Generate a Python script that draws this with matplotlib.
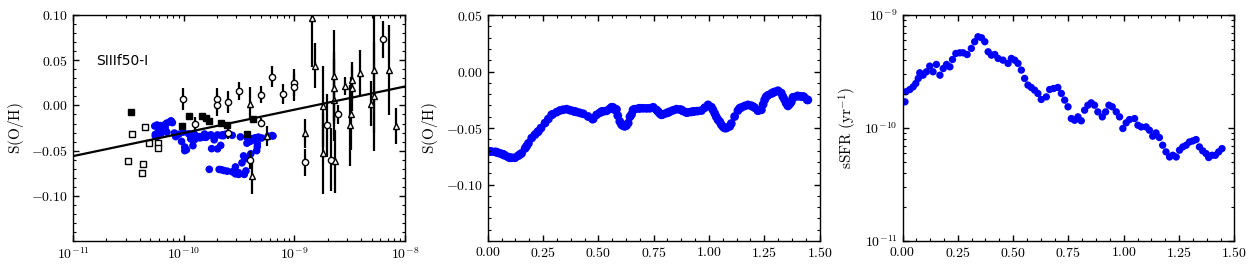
import matplotlib
matplotlib.use("Agg")
import matplotlib.pyplot as plt
import numpy as np
from matplotlib.ticker import AutoMinorLocator, MultipleLocator, FixedLocator

plt.rcParams['font.family'] = 'serif'
plt.rcParams['font.serif'] = ['cmr10']
plt.rcParams['mathtext.fontset'] = 'cm'
plt.rcParams['axes.formatter.use_mathtext'] = True
plt.rcParams['font.size'] = 10

t = [0.011, 0.015, 0.033, 0.048, 0.06, 0.071, 0.078, 0.093, 0.108, 0.123,
     0.138, 0.153, 0.169, 0.184, 0.199, 0.214, 0.226, 0.241, 0.259, 0.274,
     0.292, 0.311, 0.326, 0.341, 0.357, 0.372, 0.387, 0.402, 0.417, 0.432,
     0.454, 0.477, 0.492, 0.507, 0.522, 0.537, 0.552, 0.567, 0.582, 0.597,
     0.612, 0.627, 0.65, 0.665, 0.683, 0.702, 0.718, 0.733, 0.748, 0.763,
     0.778, 0.793, 0.808, 0.823, 0.838, 0.853, 0.868, 0.883, 0.903, 0.918,
     0.933, 0.948, 0.966, 0.981, 0.996, 1.011, 1.026, 1.049, 1.064, 1.079,
     1.101, 1.116, 1.131, 1.146, 1.161, 1.176, 1.191, 1.207, 1.222, 1.237,
     1.252, 1.267, 1.282, 1.297, 1.312, 1.327, 1.342, 1.357, 1.372, 1.384,
     1.399, 1.414, 1.429, 1.444]
soh = [-0.0707, -0.0708, -0.0711, -0.072, -0.0727, -0.0734, -0.0743, -0.0757, -0.0763, -0.0763,
       -0.0745, -0.0724, -0.068, -0.0635, -0.0588, -0.0558, -0.0535, -0.05, -0.0456, -0.042,
       -0.038, -0.036, -0.0345, -0.0338, -0.0333, -0.0342, -0.035, -0.0358, -0.0366, -0.0374,
       -0.0398, -0.0418, -0.0383, -0.0365, -0.0352, -0.0348, -0.033, -0.0318, -0.0335, -0.0442,
       -0.048, -0.0478, -0.038, -0.0333, -0.0326, -0.0325, -0.0326, -0.0325, -0.0316, -0.034,
       -0.0372, -0.0378, -0.0368, -0.0355, -0.0343, -0.0333, -0.0336, -0.035, -0.0362, -0.0358,
       -0.0353, -0.035, -0.0345, -0.032, -0.0295, -0.0315, -0.037, -0.0445, -0.049, -0.05,
       -0.046, -0.0398, -0.0345, -0.0318, -0.0305, -0.0295, -0.0302, -0.032, -0.0345, -0.0339,
       -0.025, -0.021, -0.0195, -0.018, -0.017, -0.019, -0.025, -0.0304, -0.027, -0.0228,
       -0.0218, -0.022, -0.0223, -0.025]
log_ssfr = [-9.768, -9.679, -9.659, -9.635, -9.606, -9.561, -9.511, -9.532, -9.502, -9.452,
            -9.502, -9.437, -9.532, -9.473, -9.437, -9.458, -9.393, -9.34, -9.334, -9.334,
            -9.349, -9.295, -9.236, -9.192, -9.201, -9.236, -9.325, -9.355, -9.349, -9.384,
            -9.399, -9.428, -9.384, -9.399, -9.428, -9.487, -9.561, -9.62, -9.641, -9.665,
            -9.694, -9.747, -9.724, -9.659, -9.65, -9.641, -9.694, -9.753, -9.812, -9.916,
            -9.931, -9.901, -9.936, -9.842, -9.798, -9.777, -9.798, -9.857, -9.901, -9.857,
            -9.798, -9.812, -9.857, -9.901, -10.004, -9.954, -9.925, -9.916, -9.975, -9.99,
            -9.99, -10.019, -10.072, -10.043, -10.084, -10.152, -10.211, -10.256, -10.241, -10.256,
            -10.196, -10.167, -10.152, -10.123, -10.114, -10.102, -10.167, -10.202, -10.226, -10.261,
            -10.241, -10.241, -10.211, -10.182]
ssfr = 10.0 ** np.array(log_ssfr)

# extra readings of the thick S(O/H) track in panel 2
t_extra = [0.0, 0.04, 0.07, 0.10, 0.146, 0.176, 0.229, 0.289, 0.394, 0.474,
           0.515, 0.56, 0.575, 0.588, 0.605, 0.62, 0.635, 0.643, 0.657, 0.688,
           0.77, 0.785, 0.815, 0.876, 0.898, 0.928, 1.018, 1.033, 1.041, 1.056,
           1.071, 1.094, 1.139, 1.199, 1.221, 1.245, 1.259, 1.289, 1.334, 1.349,
           1.364, 1.38, 1.402, 1.425, 1.447]
soh_extra = [-0.0705, -0.0713, -0.0734, -0.0763, -0.0734, -0.066, -0.0529, -0.0383, -0.0354, -0.0421,
             -0.0354, -0.0316, -0.0339, -0.039, -0.047, -0.0485, -0.0456, -0.040, -0.0339, -0.0325,
             -0.0354, -0.0383, -0.0363, -0.0339, -0.0363, -0.0354, -0.0339, -0.040, -0.0427, -0.047,
             -0.05, -0.0485, -0.0325, -0.031, -0.0345, -0.029, -0.0222, -0.0187, -0.0222, -0.028,
             -0.029, -0.0228, -0.0216, -0.0222, -0.0251]

# observed samples in panel 1 (log sSFR, S(O/H), error)
osq_x = [-10.503, -10.466, -10.346, -10.316, -10.234, -10.228, -10.367, -10.373]
osq_y = [-0.062, -0.032, -0.024, -0.042, -0.042, -0.047, -0.065, -0.075]

fsq_x = [-10.475, -10.014, -9.954, -9.836, -9.80, -9.773, -9.661, -9.607, -9.372, -9.426]
fsq_y = [-0.007, -0.023, -0.012, -0.012, -0.014, -0.017, -0.019, -0.022, -0.015, -0.032]

circ_x = [-10.005, -9.90, -9.70, -9.70, -9.598, -9.50, -9.60, -9.30, -9.30, -9.203,
          -9.10, -9.004, -9.004, -9.40, -8.905, -8.70, -8.664, -8.603, -8.20]
circ_y = [0.007, -0.021, 0.007, 0.0, 0.004, 0.016, -0.031, 0.012, -0.019, 0.032,
          0.013, 0.025, 0.020, -0.060, -0.063, -0.022, -0.060, -0.010, 0.073]
circ_e = [0.012, 0.008, 0.012, 0.012, 0.012, 0.010, 0.006, 0.009, 0.005, 0.012,
          0.011, 0.015, 0.015, 0.010, 0.015, 0.035, 0.035, 0.010, 0.020]

tri_x = [-9.40, -9.378, -9.245, -8.84, -8.81, -8.905, -8.74, -8.74, -8.64, -8.64,
         -8.64, -8.63, -8.54, -8.50, -8.49, -8.48, -8.48, -8.41, -8.31, -8.28,
         -8.28, -8.14, -8.08]
tri_y = [0.002, -0.078, -0.034, 0.097, 0.044, -0.031, -0.001, -0.053, 0.033, 0.019,
         0.006, -0.062, 0.022, -0.022, -0.009, 0.019, 0.028, 0.036, 0.002, 0.039,
         0.010, 0.039, -0.023]
tri_e = [0.018, 0.020, 0.011, 0.055, 0.025, 0.016, 0.045, 0.045, 0.050, 0.040,
         0.045, 0.035, 0.010, 0.045, 0.040, 0.025, 0.020, 0.025, 0.025, 0.070,
         0.060, 0.050, 0.020]

# linear fit S(O/H) = a*log10(sSFR) + b
fit_a = 0.02567
fit_b = 0.2263

fig = plt.figure(figsize=(12.57, 2.69), dpi=100)
w = 0.264
ax1 = fig.add_axes([0.0581, 0.104, w, 0.840])
ax2 = fig.add_axes([0.388, 0.104, w, 0.840])
ax3 = fig.add_axes([0.718, 0.104, w, 0.840])

blue = '#0000ff'

# panel 1
ax1.scatter(ssfr, soh, s=30, color=blue, edgecolors='none', zorder=2)
ax1.plot(10.0 ** np.array(osq_x), osq_y, 's', mfc='white', mec='k', ms=4.5, mew=1.0, zorder=3)
ax1.plot(10.0 ** np.array(fsq_x), fsq_y, 's', mfc='k', mec='k', ms=4.5, mew=1.0, zorder=3)
ax1.errorbar(10.0 ** np.array(circ_x), circ_y, yerr=circ_e, fmt='o', mfc='white', mec='k',
             ms=4.5, mew=1.0, ecolor='k', elinewidth=1.6, capsize=0, zorder=3)
ax1.errorbar(10.0 ** np.array(tri_x), tri_y, yerr=tri_e, fmt='^', mfc='white', mec='k',
             ms=4.5, mew=1.0, ecolor='k', elinewidth=1.6, capsize=0, zorder=3)
lx = np.array([-11, -8])
ax1.plot(10.0 ** lx, fit_a * lx + fit_b, 'k-', lw=1.6, zorder=4)
ax1.set_xscale('log')
ax1.set_xlim(1e-11, 1e-8)
ax1.set_ylim(-0.15, 0.10)
ax1.yaxis.set_major_locator(FixedLocator([-0.10, -0.05, 0.0, 0.05, 0.10]))
ax1.yaxis.set_minor_locator(MultipleLocator(0.01))
ax1.set_ylabel(r'$\mathrm{S(O/H)}$', fontsize=11)
ax1.text(0.07, 0.78, 'SIIIf50-I', transform=ax1.transAxes, fontsize=10,
         family='DejaVu Sans')

# panel 2
ax2.scatter(t + t_extra, soh + soh_extra, s=40, color=blue, edgecolors='none')
ax2.set_xlim(0, 1.5)
ax2.set_ylim(-0.15, 0.05)
ax2.xaxis.set_major_locator(MultipleLocator(0.25))
ax2.xaxis.set_minor_locator(AutoMinorLocator(4))
ax2.yaxis.set_major_locator(FixedLocator([-0.10, -0.05, 0.0, 0.05]))
ax2.yaxis.set_minor_locator(MultipleLocator(0.01))
ax2.set_ylabel(r'$\mathrm{S(O/H)}$', fontsize=11)

# panel 3
ax3.scatter(t, ssfr, s=28, color=blue, edgecolors='none')
ax3.set_yscale('log')
ax3.set_xlim(0, 1.5)
ax3.set_ylim(1e-11, 1e-9)
ax3.xaxis.set_major_locator(MultipleLocator(0.25))
ax3.xaxis.set_minor_locator(AutoMinorLocator(4))
ax3.set_ylabel(r'$\mathrm{sSFR\ (yr^{-1})}$', fontsize=11)

fmt2 = plt.FuncFormatter(lambda v, p: r'$%.2f$' % v)
for ax in (ax1, ax2, ax3):
    ax.tick_params(which='both', direction='in', top=True, right=True)
    ax.tick_params(which='major', length=4, width=1)
    ax.tick_params(which='minor', length=2, width=0.8)
    for sp in ax.spines.values():
        sp.set_linewidth(1.0)
ax1.yaxis.set_major_formatter(fmt2)
ax2.yaxis.set_major_formatter(fmt2)
ax2.xaxis.set_major_formatter(fmt2)
ax3.xaxis.set_major_formatter(fmt2)

fig.savefig('out.png', dpi=100)
